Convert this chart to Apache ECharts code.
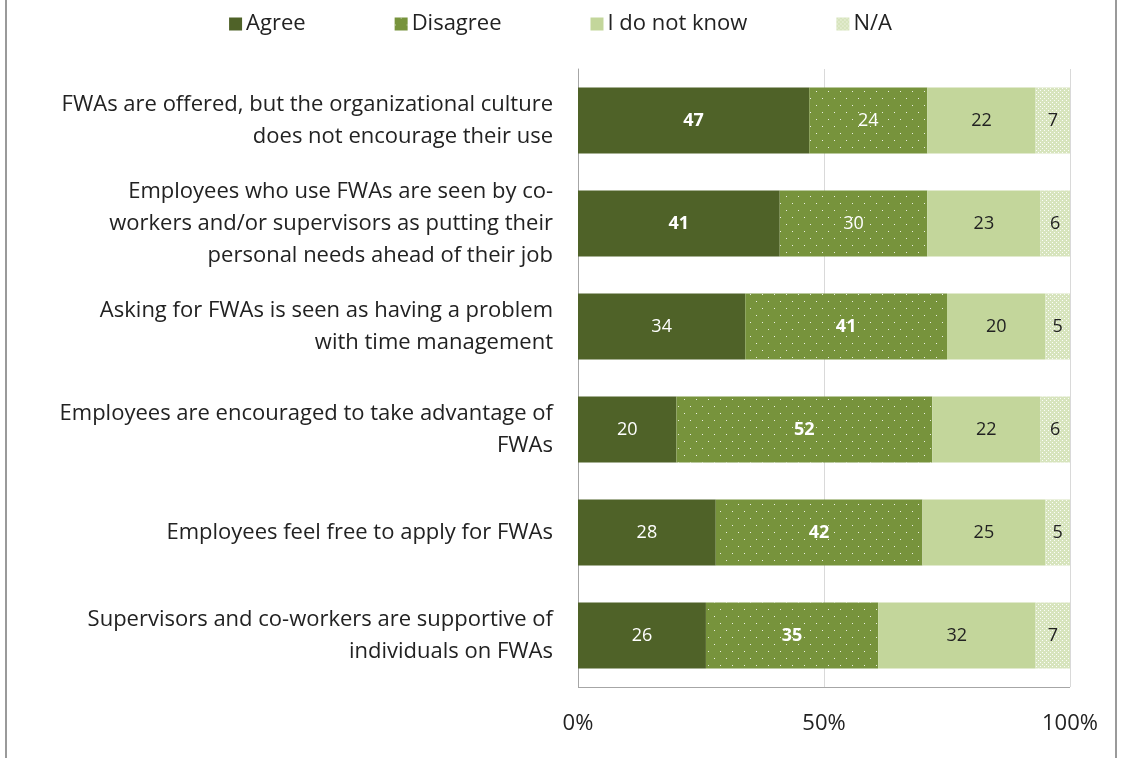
<!DOCTYPE html>
<html>
<head>
<meta charset="utf-8">
<script src="https://cdn.jsdelivr.net/npm/echarts@6/dist/echarts.min.js"></script>
<style>html,body{margin:0;padding:0;background:#fff;}#c{width:1121px;height:758px;}</style>
</head>
<body>
<div id="c"></div>
<script>
var categories = [
  "FWAs are offered, but the organizational culture\ndoes not encourage their use",
  "Employees who use FWAs are seen by co-\nworkers and/or supervisors as putting their\npersonal needs ahead of their job",
  "Asking for FWAs is seen as having a problem\nwith time management",
  "Employees are encouraged to take advantage of\nFWAs",
  "Employees feel free to apply for FWAs",
  "Supervisors and co-workers are supportive of\nindividuals on FWAs"
];
var seriesNames = ["Agree", "Disagree", "I do not know", "N/A"];
var agree = [47, 41, 34, 20, 28, 26];
var disagree = [24, 30, 41, 52, 42, 35];
var dontKnow = [22, 23, 20, 22, 25, 32];
var na = [7, 6, 5, 6, 5, 7];
var xTickLabels = ["0%", "50%", "100%"];

var FONT = "'Open Sans', sans-serif";
var values = [agree, disagree, dontKnow, na];
var colors = ["#4f6228", "#77933c", "#c3d69b", "#d7e4bd"];
var labelColors = ["#ffffff", "#ffffff", "#222222", "#222222"];
var decals = [
  null,
  { symbol: 'rect', symbolSize: 1, color: 'rgba(255,255,255,0.85)', dashArrayX: [[1, 11], [0, 6, 1, 5]], dashArrayY: [1, 6] },
  null,
  { symbol: 'rect', symbolSize: 1, color: 'rgba(255,255,255,0.9)', dashArrayX: [[1, 3], [0, 2, 1, 1]], dashArrayY: [1, 1] }
];

function rowMax(i) {
  return Math.max(agree[i], disagree[i], dontKnow[i], na[i]);
}

var series = values.map(function (arr, s) {
  return {
    name: seriesNames[s],
    type: 'bar',
    stack: 'total',
    barWidth: 66,
    itemStyle: decals[s] ? { color: colors[s], decal: decals[s] } : { color: colors[s] },
    label: { show: true, position: 'inside', color: labelColors[s], fontSize: 18, fontFamily: FONT },
    data: arr.map(function (v, i) {
      return { value: v, label: { fontWeight: v === rowMax(i) ? 'bold' : 'normal' } };
    })
  };
});

var chart = echarts.init(document.getElementById('c'), null, { renderer: 'canvas' });
chart.setOption({
  animation: false,
  backgroundColor: '#fff',
  legend: {
    top: 8,
    left: 'center',
    itemWidth: 13,
    itemHeight: 13,
    itemGap: 89,
    icon: 'rect',
    textStyle: { fontSize: 22, fontFamily: FONT, color: '#222', padding: [0, 0, 0, -1] },
    data: seriesNames
  },
  grid: { left: 578, right: 51, top: 69, bottom: 71 },
  xAxis: {
    type: 'value',
    min: 0,
    max: 100,
    interval: 50,
    axisLine: { show: false },
    axisTick: { show: false },
    splitLine: { show: true, lineStyle: { color: '#d9d9d9', width: 1 } },
    axisLabel: {
      fontSize: 22, fontFamily: FONT, color: '#222', margin: 26,
      formatter: function (v) { return xTickLabels[Math.round(v / 50)]; }
    }
  },
  yAxis: {
    type: 'category',
    inverse: true,
    data: categories,
    axisLine: { show: true, onZero: false, lineStyle: { color: '#a6a6a6', width: 1 } },
    axisTick: { show: false },
    axisLabel: { fontSize: 22, fontFamily: FONT, color: '#222', margin: 25, lineHeight: 32, align: 'right' }
  },
  graphic: [
    { type: 'line', shape: { x1: 6, y1: 0, x2: 6, y2: 758 }, style: { stroke: '#9a9a9a', lineWidth: 2 } },
    { type: 'line', shape: { x1: 1116, y1: 0, x2: 1116, y2: 758 }, style: { stroke: '#9a9a9a', lineWidth: 2 } },
    { type: 'line', shape: { x1: 578, y1: 687.5, x2: 1070, y2: 687.5 }, style: { stroke: '#a6a6a6', lineWidth: 1 } }
  ],
  series: series
});
</script>
</body>
</html>
